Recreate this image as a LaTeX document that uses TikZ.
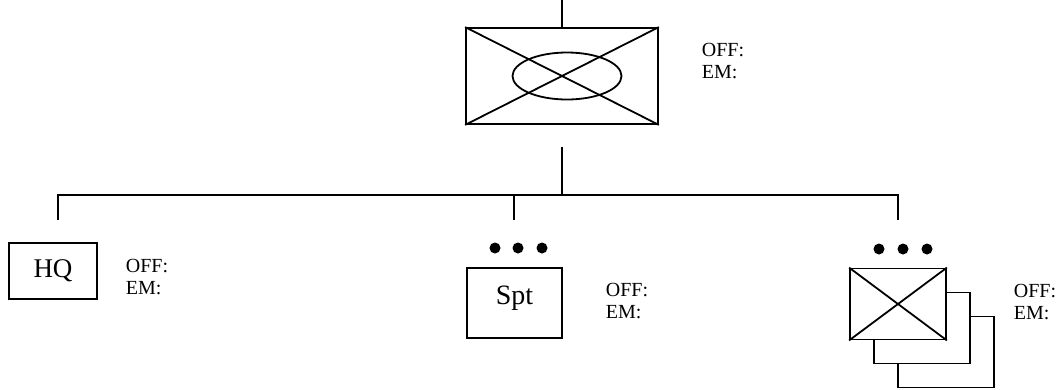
\documentclass[tikz,border=0pt]{standalone}
\usepackage{fontspec}
\setmainfont{Liberation Serif}
\usetikzlibrary{positioning, shapes.geometric}
\tikzset{
unitbox/.style={draw, line width=1.8pt, fill=white, inner sep=0pt}, % unit symbol frame
info/.style={align=left, anchor=north west, inner sep=0pt, font=\fontsize{20}{22.5}\selectfont}, % OFF / EM text
dot/.style={circle, fill, inner sep=0pt, minimum size=11pt}, % the three dots
}
\begin{document}
\begin{tikzpicture}[x=1pt, y=-1pt, line width=1.8pt]
\useasboundingbox (0,0) rectangle (1061,389);
% higher unit
\node[unitbox, minimum width=192pt, minimum height=96pt] (cmd) at (562,76) {};
\draw (cmd.north west) -- (cmd.south east) (cmd.south west) -- (cmd.north east);
\node[draw, ellipse, minimum width=109pt, minimum height=47pt, inner sep=0pt] (staff) at (567,76) {};
\node[info] (cmdinfo) at (701,42) {OFF:\\EM:};
\coordinate (up) at (562,0);
\draw (up) -- (cmd.north);
% connecting bar
\coordinate (stem) at (562,147);
\coordinate (bar) at (562,195);
\coordinate (legL) at (58,220);
\coordinate (legM) at (514,220);
\coordinate (legR) at (898,220);
\draw (stem) -- (bar);
\draw (legL) -- (legL |- bar) -- (legR |- bar) -- (legR);
\draw (legM) -- (legM |- bar);
% subordinate units
\node[unitbox, minimum width=88pt, minimum height=56pt, font=\fontsize{27}{30}\selectfont] (hq) at (53,271) {HQ};
\node[info] (hqinfo) at (125,258) {OFF:\\EM:};
\node[dot] (m1) at (495,248) {};
\node[dot] (m2) at (518,248) {};
\node[dot] (m3) at (542,248) {};
\node[unitbox, minimum width=95pt, minimum height=70pt, text depth=16pt, font=\fontsize{28}{30}\selectfont] (spt) at (514.5,303) {Spt};
\node[info] (sptinfo) at (605,282) {OFF:\\EM:};
\node[dot] (r1) at (879,249) {};
\node[dot] (r2) at (903,249) {};
\node[dot] (r3) at (927,249) {};
\node[unitbox, minimum width=96pt, minimum height=71pt] (sub3) at (946,352) {};
\node[unitbox, minimum width=96pt, minimum height=71pt] (sub2) at (922,328) {};
\node[unitbox, minimum width=96pt, minimum height=71pt] (sub1) at (898,304) {};
\draw (sub1.north west) -- (sub1.south east) (sub1.south west) -- (sub1.north east);
\node[info] (subinfo) at (1013,283) {OFF:\\EM:};
\end{tikzpicture}
\end{document}
